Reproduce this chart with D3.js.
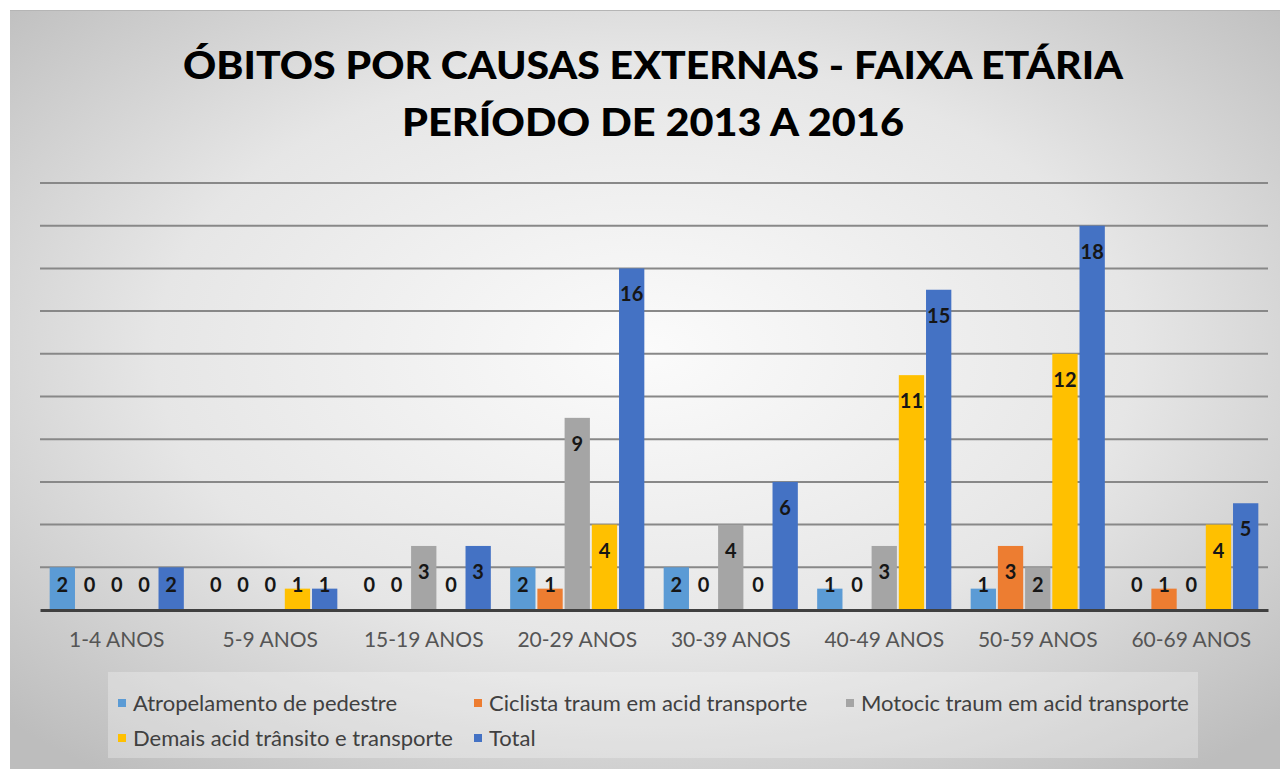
<!DOCTYPE html>
<html>
  <head>
    <meta charset="utf-8">
    <script src="https://cdn.jsdelivr.net/npm/d3@7"></script>
    <style>
      html, body { margin: 0; padding: 0; background: #fff; }
      text { font-family: Lato, "Open Sans", sans-serif; }
    </style>
  </head>
  <body>
    <svg id="chart" width="1280" height="769"></svg>
    <script>
    var categories = ["1-4 ANOS", "5-9 ANOS", "15-19 ANOS", "20-29 ANOS", "30-39 ANOS", "40-49 ANOS", "50-59 ANOS", "60-69 ANOS"];
    var seriesNames = ["Atropelamento de pedestre", "Ciclista traum em acid transporte", "Motocic traum em acid transporte", "Demais acid trânsito e transporte", "Total"];
    var atropelamento = [2, 0, 0, 2, 2, 1, 1, 0];
    var ciclista      = [0, 0, 0, 1, 0, 0, 3, 1];
    var motocic       = [0, 0, 3, 9, 4, 3, 2, 0];
    var demais        = [0, 1, 0, 4, 0, 11, 12, 4];
    var total         = [2, 1, 3, 16, 6, 15, 18, 5];
    var titleLines = ["ÓBITOS POR CAUSAS EXTERNAS - FAIXA ETÁRIA", "PERÍODO DE 2013 A 2016"];

    var seriesValues = [atropelamento, ciclista, motocic, demais, total];
    var colours = ["#5B9BD5", "#ED7D31", "#A5A5A5", "#FFC000", "#4472C4"];

    var svg = d3.select("#chart");

    // background: radial grey gradient like the office theme
    var defs = svg.append("defs");
    var grad = defs.append("radialGradient").attr("id", "bg")
      .attr("cx", "50%").attr("cy", "45%").attr("r", "70%");
    grad.append("stop").attr("offset", "0%").attr("stop-color", "#fbfbfb");
    grad.append("stop").attr("offset", "55%").attr("stop-color", "#e6e6e6");
    grad.append("stop").attr("offset", "100%").attr("stop-color", "#bdbdbd");

    svg.append("rect").attr("x", 10).attr("y", 10).attr("width", 1270).attr("height", 759)
      .attr("fill", "url(#bg)");
    svg.append("line").attr("x1", 10).attr("x2", 1280).attr("y1", 10.5).attr("y2", 10.5)
      .attr("stroke", "#b5b5b5").attr("stroke-width", 1);

    // title
    svg.selectAll(".title").data(titleLines).enter().append("text")
      .attr("class", "title")
      .attr("x", 653).attr("y", function(d, i){ return 79 + i * 57; })
      .attr("text-anchor", "middle")
      .attr("textLength", function(d, i){ return i === 0 ? 940 : 502; })
      .attr("lengthAdjust", "spacingAndGlyphs")
      .style("font-size", "38px").style("font-weight", 900).style("fill", "#000")
      .text(function(d){ return d; });

    var x0 = d3.scaleBand().domain(categories).range([40, 1268]).paddingInner(0.126).paddingOuter(0.063);
    var x1 = d3.scaleBand().domain(d3.range(seriesNames.length)).range([0, x0.bandwidth()]).paddingInner(0.07);
    var y = d3.scaleLinear().domain([0, 20]).range([610, 183]);

    // gridlines
    svg.append("g").selectAll("line").data(d3.range(2, 21, 2)).enter().append("line")
      .attr("x1", 40).attr("x2", 1268)
      .attr("y1", function(d){ return y(d); }).attr("y2", function(d){ return y(d); })
      .attr("stroke", "#888888").attr("stroke-width", 2);

    var groups = svg.append("g").selectAll("g").data(categories).enter().append("g")
      .attr("transform", function(d){ return "translate(" + x0(d) + ",0)"; });

    var cells = groups.selectAll(".cell")
      .data(function(d, ci){ return seriesValues.map(function(vals, si){ return {s: si, v: vals[ci]}; }); })
      .enter();

    cells.append("rect")
      .attr("x", function(d){ return x1(d.s); })
      .attr("width", x1.bandwidth())
      .attr("y", function(d){ return y(d.v); })
      .attr("height", function(d){ return y(0) - y(d.v); })
      .attr("fill", function(d){ return colours[d.s]; });

    cells.append("text")
      .attr("x", function(d){ return x1(d.s) + x1.bandwidth() / 2; })
      .attr("y", function(d){ return Math.min(y(d.v) + 26, y(0) - 25); })
      .attr("dy", "0.35em")
      .attr("text-anchor", "middle")
      .style("font-size", "20px").style("font-weight", 700).style("fill", "#161616")
      .text(function(d){ return d.v; });

    // baseline axis
    var xAxis = d3.axisBottom(x0).tickSize(0).tickPadding(22);
    var axisG = svg.append("g").attr("transform", "translate(0," + y(0) + ")").call(xAxis);
    axisG.select(".domain").attr("stroke", "#404040").attr("stroke-width", 3);
    axisG.selectAll("text").style("font-size", "21px").style("fill", "#555555")
      .style("font-family", "Lato, sans-serif");

    // legend
    svg.append("rect").attr("x", 108).attr("y", 672).attr("width", 1090).attr("height", 86)
      .attr("fill", "#ffffff").attr("fill-opacity", 0.28);
    var legendPos = [[118, 703], [474, 703], [846, 703], [118, 738], [474, 738]];
    var legend = svg.append("g").selectAll("g").data(seriesNames).enter().append("g")
      .attr("transform", function(d, i){ return "translate(" + legendPos[i][0] + "," + legendPos[i][1] + ")"; });
    legend.append("rect").attr("x", 0).attr("y", -4).attr("width", 8).attr("height", 8)
      .attr("fill", function(d, i){ return colours[i]; });
    legend.append("text").attr("x", 15).attr("dy", "0.35em")
      .style("font-size", "22px").style("fill", "#404040")
      .text(function(d){ return d; });
    </script>
  </body>
</html>
